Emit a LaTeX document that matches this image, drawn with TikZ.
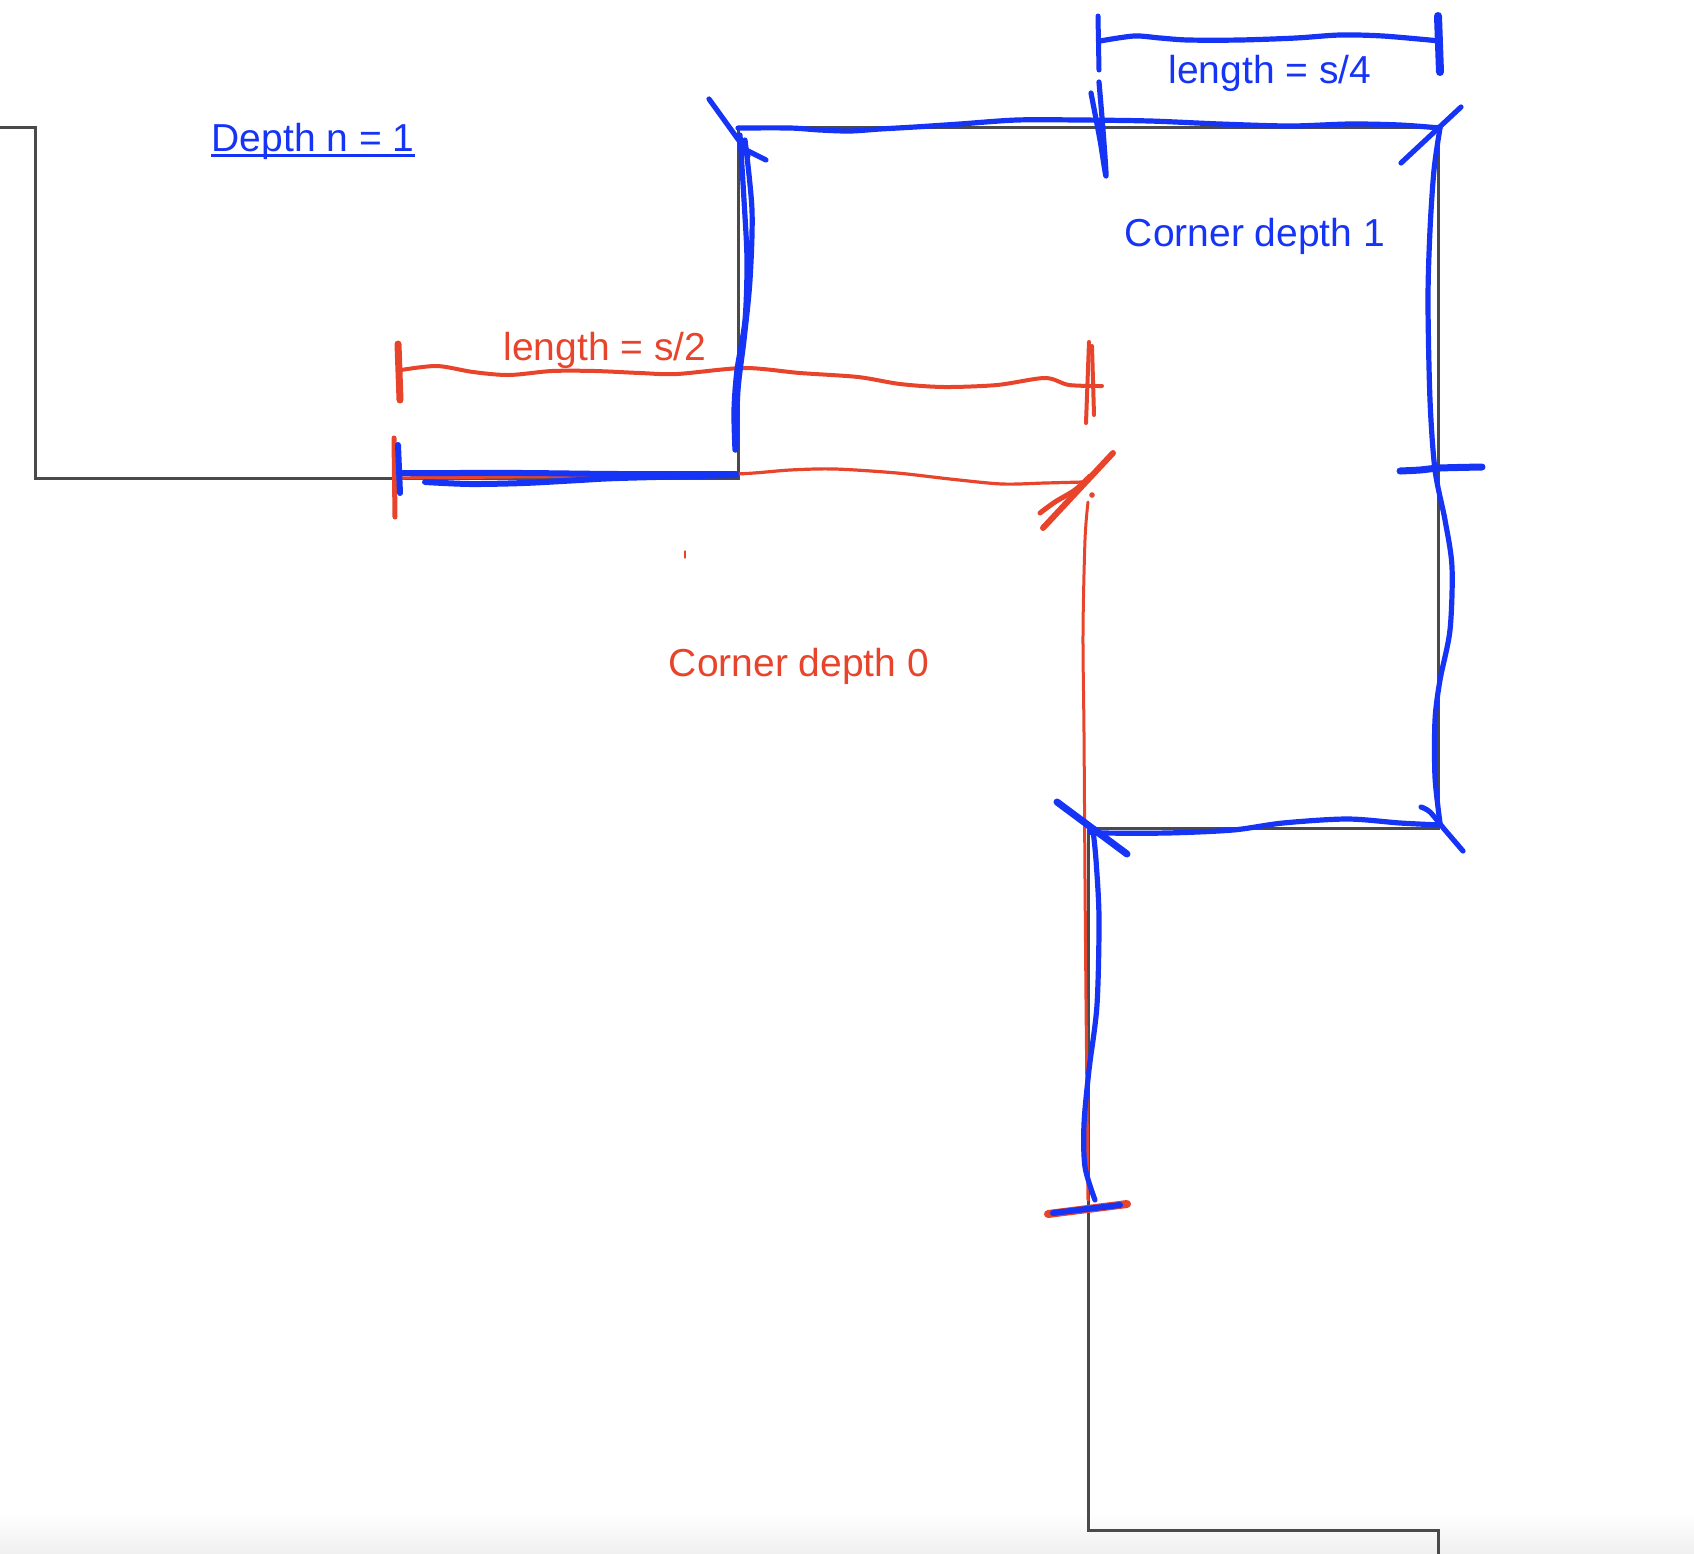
\documentclass[tikz,border=0pt]{standalone}
\usepackage{fontspec}
\setmainfont{Liberation Sans}
\definecolor{pblue}{HTML}{1634F5}
\definecolor{pred}{HTML}{E8442B}
\definecolor{pgray}{HTML}{4A4A4A}
\begin{document}
\begin{tikzpicture}[x=0.5pt,y=-0.5pt, line cap=round, line join=round,
  grayline/.style={draw=pgray, line width=1.5pt, line cap=butt, line join=miter},
  bluepen/.style={draw=pblue, line width=2.6pt},
  redpen/.style={draw=pred, line width=2pt},
  lbl/.style={font=\fontsize{19.5}{23}\selectfont, inner sep=0pt, anchor=base}]
\useasboundingbox (0,0) rectangle (1694,1554);
\shade[top color=white, bottom color=black!6] (0,1512) rectangle (1694,1554);
% grey fractal curve
\draw[grayline] (0,127) -- (35,127) -- (35,478) -- (738,478) -- (738,127) -- (1438,127)
  -- (1438,828) -- (1088,828) -- (1088,1530) -- (1438,1530) -- (1438,1554);

% ---------- red strokes ----------
\draw[redpen] plot[smooth] coordinates {(401,370) (437,366) (473,372) (509,375) (552,371) (595,371) (640,373) (677,374) (744,368) (800,373) (858,377) (900,384) (944,387) (997,385) (1045,378) (1069,385) (1102,386)};
\draw[pred, line width=3.5pt] (398,344) -- (400,400);
\draw[redpen] (1089,342) -- (1086,423);
\draw[redpen] (1092,346) -- (1094,415);
\draw[pred, line width=1.6pt] plot[smooth] coordinates {(394,478) (500,477) (620,476) (736,474) (790,470) (835,469) (897,473) (950,479) (1002,484) (1045,483) (1083,482)};
\draw[pred, line width=2.5pt] (394,438) -- (395,517);
\draw[pred, line width=3pt] (1113,453) -- (1043,528);
\draw[pred, line width=2.5pt] plot[smooth] coordinates {(1040,513) (1055,502) (1075,490) (1090,476)};
\fill[pred] (1092,495) circle (1.4pt);
\draw[pred, line width=1.5pt] plot[smooth] coordinates {(1088,502) (1085,540) (1083,633) (1084,733) (1085,880) (1086,1000) (1087,1100) (1088,1200)};
\draw[pred, line width=4pt] (1048,1214) -- (1127,1204);
\draw[pred, line width=0.6pt] (685,551) -- (685,558);

% ---------- blue strokes ----------
\draw[pblue, line width=2.5pt] (1098,16) -- (1099,70);
\draw[bluepen] plot[smooth] coordinates {(1100,41) (1134,36) (1160,38) (1188,40) (1240,40) (1296,38) (1340,35) (1383,36) (1440,41)};
\draw[pblue, line width=4pt] (1438,16) -- (1440,72);
\draw[bluepen] plot[smooth] coordinates {(1091,93) (1100,140) (1106,176) (1103,130) (1099,82)};
\draw[bluepen] plot[smooth] coordinates {(738,128) (790,128) (820,130) (850,131) (880,129) (915,127) (960,124) (1017,120) (1080,120) (1150,121) (1220,124) (1290,126) (1350,124) (1400,125) (1440,128)};
\draw[bluepen] (709,99) -- (740,142) -- (748,156);
\draw[bluepen] (742,148) -- (766,160);
\draw[bluepen] plot[smooth] coordinates {(740,135) (744,200) (747,260) (745,320) (737,370) (734,410) (735,450)};
\draw[bluepen] plot[smooth] coordinates {(745,140) (752,210) (750,280) (744,340) (738,390) (736,450)};
\draw[bluepen] (1461,107) -- (1401,163);
\draw[bluepen] plot[smooth] coordinates {(1440,128) (1434,170) (1430,230) (1428,300) (1430,400) (1435,470) (1445,520) (1452,567) (1450,630) (1440,680) (1435,720) (1435,777) (1440,823)};
\draw[pblue, line width=3.5pt] plot[smooth] coordinates {(1400,471) (1420,470) (1440,468) (1482,467)};
\draw[bluepen] plot[smooth] coordinates {(1421,807) (1430,812) (1445,830) (1463,851)};
\draw[bluepen] plot[smooth] coordinates {(1440,825) (1400,823) (1347,819) (1283,823) (1233,830) (1167,833) (1100,833) (1090,832)};
\draw[pblue, line width=3.5pt] (1057,802) -- (1127,854);
\draw[bluepen] plot[smooth] coordinates {(1093,830) (1096,860) (1099,918) (1097,1005) (1089,1070) (1084,1124) (1085,1167) (1095,1200)};
\draw[pblue, line width=3pt] (1053,1213) -- (1120,1205);
\draw[pblue, line width=3pt] plot[smooth] coordinates {(399,473) (450,473) (524,473) (620,474) (736,474)};
\draw[pblue, line width=3pt] plot[smooth] coordinates {(425,482) (470,484) (524,483) (580,480) (619,478) (736,475)};
\draw[pblue, line width=3pt] (398,445) -- (400,493);

% ---------- labels ----------
\node[lbl, text=pblue] (dn) at (313,151) {Depth n = 1};
\draw[pblue, line width=1.5pt, line cap=butt] ([yshift=-2pt]dn.base west) -- ([yshift=-2pt]dn.base east);
\node[lbl, text=pblue] (l4) at (1270,83) {length = s/4};
\node[lbl, text=pblue] (c1) at (1255,246) {Corner depth 1};
\node[lbl, text=pred] (l2) at (605,360) {length = s/2};
\node[lbl, text=pred] (c0) at (799,676) {Corner depth 0};
\end{tikzpicture}
\end{document}
